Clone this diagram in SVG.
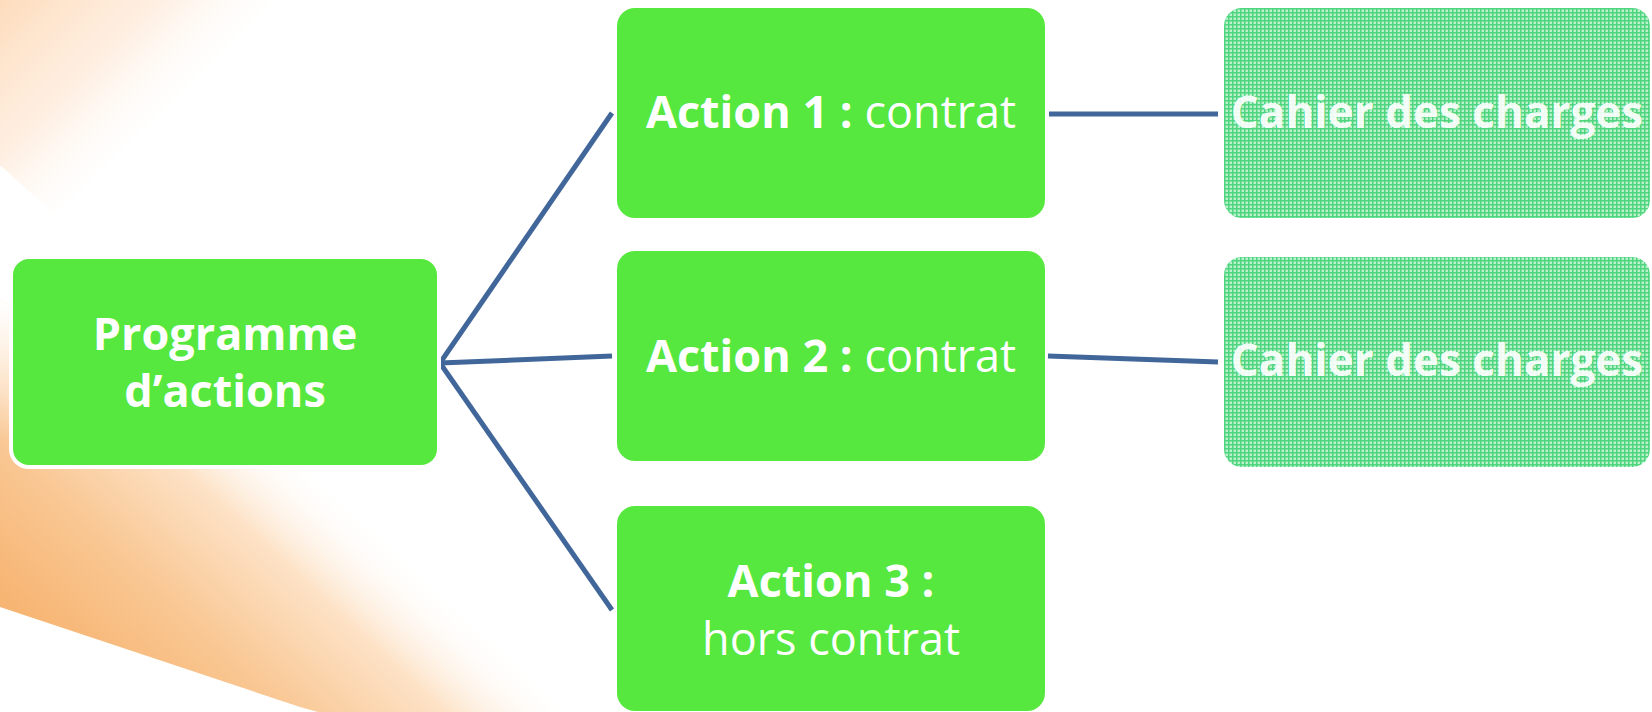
<svg xmlns="http://www.w3.org/2000/svg" width="1652" height="712" viewBox="0 0 1652 712">
  <defs>
    <linearGradient id="bgTop" gradientUnits="userSpaceOnUse" x1="0" y1="0" x2="150" y2="150">
      <stop offset="0" stop-color="#fddcbc" stop-opacity="1"/>
      <stop offset="0.55" stop-color="#feecdc" stop-opacity="0.8"/>
      <stop offset="1" stop-color="#ffffff" stop-opacity="0"/>
    </linearGradient>
    <linearGradient id="bgBottom" gradientUnits="userSpaceOnUse" x1="30" y1="620" x2="240" y2="395">
      <stop offset="0" stop-color="#f7b573"/>
      <stop offset="0.35" stop-color="#f9c793"/>
      <stop offset="0.7" stop-color="#fde2c6"/>
      <stop offset="1" stop-color="#ffffff" stop-opacity="0"/>
    </linearGradient>
    <linearGradient id="bgFadeUp" gradientUnits="userSpaceOnUse" x1="0" y1="300" x2="0" y2="440">
      <stop offset="0" stop-color="#ffffff" stop-opacity="1"/>
      <stop offset="1" stop-color="#ffffff" stop-opacity="0"/>
    </linearGradient>
    <pattern id="mesh" patternUnits="userSpaceOnUse" width="4" height="4">
      <rect width="4" height="4" fill="#b8f2cc"/>
      <rect x="0" y="0" width="4" height="1.5" fill="#4fd57e"/>
      <rect x="0" y="0" width="1.5" height="4" fill="#4fd57e"/>
    </pattern>
    <style>
      .box { fill: #56e83e; }
      .cahier { fill: url(#mesh); }
      .conn { stroke: #41679a; stroke-width: 5; fill: none; stroke-linecap: butt; }
      .t { fill: #ffffff; font-family: "Open Sans", "Noto Sans", sans-serif; font-size: 45px; text-anchor: middle; }
      .b { font-weight: bold; }
      .ct { fill: #ffffff; fill-opacity: 0.92; font-family: "Open Sans", "Noto Sans", sans-serif; font-size: 44px; font-weight: bold; text-anchor: middle; }
    </style>
  </defs>

  <rect width="1652" height="712" fill="#ffffff"/>

  <g id="background">
    <polygon points="0,0 275,0 55,215 0,165" fill="url(#bgTop)"/>
    <polygon points="0,300 0,607 300,707 318,712 600,712 320,450 180,380" fill="url(#bgBottom)"/>
    <polygon points="0,300 0,440 260,440 180,380" fill="url(#bgFadeUp)"/>
  </g>

  <g id="connectors">
    <line class="conn" x1="440" y1="363" x2="612" y2="113"/>
    <line class="conn" x1="440" y1="363" x2="612" y2="356"/>
    <line class="conn" x1="440" y1="363" x2="612" y2="610"/>
    <line class="conn" x1="1049" y1="114" x2="1218" y2="114"/>
    <line class="conn" x1="1048" y1="356" x2="1218" y2="362"/>
  </g>

  <g id="programme">
    <rect class="box" x="11" y="257" width="428" height="210" rx="18" stroke="#ffffff" stroke-width="4"/>
    <text class="t b" x="225" y="350">Programme</text>
    <text class="t b" x="225" y="407">d’actions</text>
  </g>

  <g id="action1">
    <rect class="box" x="617" y="8" width="428" height="210" rx="18"/>
    <text class="t" x="831" y="128"><tspan class="b">Action 1 :</tspan> contrat</text>
  </g>

  <g id="action2">
    <rect class="box" x="617" y="251" width="428" height="210" rx="18"/>
    <text class="t" x="831" y="372"><tspan class="b">Action 2 :</tspan> contrat</text>
  </g>

  <g id="action3">
    <rect class="box" x="617" y="506" width="428" height="205" rx="18"/>
    <text class="t b" x="831" y="597">Action 3 :</text>
    <text class="t" x="831" y="655">hors contrat</text>
  </g>

  <g id="cahier1">
    <rect class="cahier" x="1224" y="8" width="426" height="210" rx="18"/>
    <text class="ct" x="1437" y="128">Cahier des charges</text>
  </g>

  <g id="cahier2">
    <rect class="cahier" x="1224" y="257" width="426" height="210" rx="18"/>
    <text class="ct" x="1437" y="376">Cahier des charges</text>
  </g>
</svg>
